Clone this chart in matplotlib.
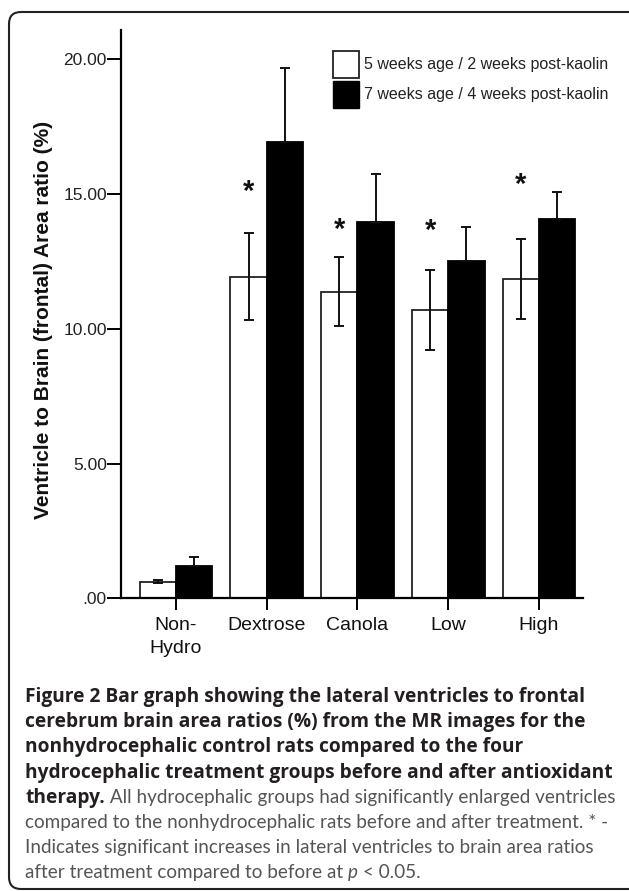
import numpy as np
import matplotlib
matplotlib.use("Agg")
import matplotlib.pyplot as plt
from matplotlib.patches import FancyBboxPatch, Patch

# values
groups = ["Non-\nHydro", "Dextrose", "Canola", "Low", "High"]
wk5 = [0.62, 11.93, 11.38, 10.70, 11.84]
wk5_err = [0.05, 1.61, 1.27, 1.48, 1.48]
wk7 = [1.21, 16.94, 13.97, 12.52, 14.06]
wk7_err = [0.33, 2.73, 1.77, 1.27, 1.00]
star_y = [np.nan, 15.34, 13.93, 13.89, 15.60]
yticks = [0, 5, 10, 15, 20]
ytick_labels = [".00", "5.00", "10.00", "15.00", "20.00"]
legend_labels = ["5 weeks age / 2 weeks post-kaolin", "7 weeks age / 4 weeks post-kaolin"]

W, H = 629, 891
fig = plt.figure(figsize=(W / 100, H / 100), dpi=100)
plt.rcParams['font.family'] = ['Liberation Sans', 'DejaVu Sans']

# rounded frame
frame = FancyBboxPatch((9, H - 889), 660, 877, boxstyle="round,pad=0,rounding_size=12",
                       transform=None, fill=False, edgecolor="#222222", lw=1.5)
fig.patches.append(frame)

ax = fig.add_axes([120.7 / W, 1 - 598.3 / H, (583 - 120.7) / W, (598.3 - 30) / H])
x = np.arange(len(groups))
w = 0.40
ax.bar(x - w / 2, wk5, w, color="white", edgecolor="#222222", lw=1.3)
ax.bar(x + w / 2, wk7, w, color="black", edgecolor="black", lw=1.3)
ax.errorbar(x - w / 2, wk5, yerr=wk5_err, fmt="none", ecolor="#111111", elinewidth=1.4,
            capsize=3.5, capthick=1.4)
# lower half of the black bars' error is hidden inside the bar
ax.errorbar(x + w / 2, wk7, yerr=[np.zeros(len(wk7)), wk7_err], fmt="none", ecolor="#111111",
            elinewidth=1.4, capsize=3.5, capthick=1.4)

for xi, sy in zip(x, star_y):
    if not np.isnan(sy):
        ax.annotate("*", (xi - w / 2, sy), xytext=(0, -5), textcoords="offset points",
                    ha="center", va="center", fontsize=21, fontweight="bold", color="#111111")

ax.set_xlim(-0.609, 4.485)
ax.set_ylim(0, 21.09)
ax.set_yticks(yticks)
ax.set_yticklabels(ytick_labels, fontsize=12.5, color="#222222")
ax.set_xticks(x)
ax.set_xticklabels(groups, fontsize=14, color="#111111", linespacing=1.45)
ax.tick_params(axis="y", length=10, width=1.4, pad=0)
ax.tick_params(axis="x", length=8.5, width=1.4, pad=5)
for s in ["top", "right"]:
    ax.spines[s].set_visible(False)
for s in ["left", "bottom"]:
    ax.spines[s].set_linewidth(1.6)

fig.text(44 / W, 1 - 320 / H, "Ventricle to Brain (frontal) Area ratio (%)", rotation=90,
         ha="center", va="center", fontsize=15, fontweight="bold", color="#111111")

handles = [Patch(facecolor="white", edgecolor="#222222", lw=1.3),
           Patch(facecolor="black", edgecolor="black")]
ax.legend(handles, legend_labels, loc="upper left", bbox_to_anchor=(333 / W, 1 - 51 / H),
          bbox_transform=fig.transFigure, frameon=False, fontsize=11.5, borderpad=0,
          borderaxespad=0, handlelength=1.65, handleheight=2.2, handletextpad=0.3,
          labelspacing=0.2, labelcolor="#222222")

# caption
bold_font = ['Open Sans', 'DejaVu Sans']
reg_font = ['Lato', 'DejaVu Sans']
bold_lines = ["Figure 2 Bar graph showing the lateral ventricles to frontal",
              "cerebrum brain area ratios (%) from the MR images for the",
              "nonhydrocephalic control rats compared to the four",
              "hydrocephalic treatment groups before and after antioxidant"]
y0 = 702
step = 25.2
bsize = 13.8
rsize = 13.6
bold_col = "#231f20"
reg_col = "#555555"


def ypos(i):
    return 1 - (y0 + i * step) / H


for i, line in enumerate(bold_lines):
    fig.text(25 / W, ypos(i), line, fontsize=bsize, fontweight="bold",
             family=bold_font, color=bold_col, va="baseline")

t = fig.text(25 / W, ypos(4), "therapy.", fontsize=bsize, fontweight="bold",
             family=bold_font, color=bold_col, va="baseline")
reg_lines = ["compared to the nonhydrocephalic rats before and after treatment. * -",
             "Indicates significant increases in lateral ventricles to brain area ratios"]
for i, line in enumerate(reg_lines):
    fig.text(25 / W, ypos(5 + i), line, fontsize=rsize,
             family=reg_font, color=reg_col, va="baseline")
t2 = fig.text(25 / W, ypos(7), "after treatment compared to before at ",
              fontsize=rsize, family=reg_font, color=reg_col, va="baseline")

# continue mixed-style lines right after the previous piece
renderer = fig.canvas.get_renderer()
x1 = t.get_window_extent(renderer).x1 / W
fig.text(x1, ypos(4), " All hydrocephalic groups had significantly enlarged ventricles",
         fontsize=rsize, family=reg_font, color=reg_col, va="baseline")
x2 = t2.get_window_extent(renderer).x1 / W
t3 = fig.text(x2, ypos(7), "p", fontsize=rsize, family=reg_font, style="italic",
              color=reg_col, va="baseline")
x3 = t3.get_window_extent(renderer).x1 / W
fig.text(x3, ypos(7), " < 0.05.", fontsize=rsize, family=reg_font, color=reg_col, va="baseline")

fig.savefig("out.png", dpi=100)
